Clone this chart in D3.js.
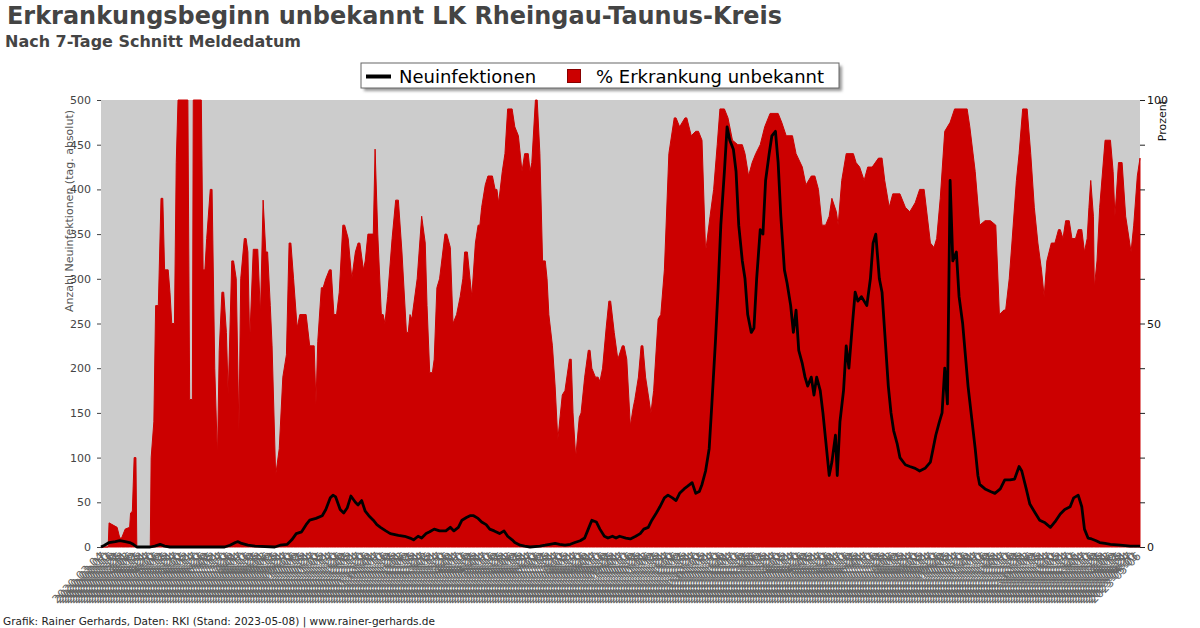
<!DOCTYPE html>
<html><head><meta charset="utf-8">
<script src="https://cdn.jsdelivr.net/npm/d3@7"></script>
<style>body{margin:0;background:#fff}svg{display:block}</style>
</head><body><svg id="c" width="1200" height="628"></svg>
<script>
// ---- data (day offset from start date) ----
const startDate = "2020-03-04";
const endDate = "2023-05-08";
const labelEveryDays = 3;
const leftTicks = [0,50,100,150,200,250,300,350,400,450,500];
const rightTicks = [0,10,20,30,40,50,60,70,80,90,100];
const rightLabels = [0,50,100];

const pctDay = [0,8,9,18,21,23,27,32,33,35,37,39,40,55,56,59,61,64,67,69,71,75,77,79,82,84,86,97,99,102,103,112,114,116,118,122,124,127,130,132,135,137,140,142,146,148,151,154,156,160,162,164,166,170,175,178,181,184,186,189,191,195,199,203,207,210,212,215,219,222,229,233,238,240,242,246,248,251,255,257,260,263,266,270,272,276,280,284,287,289,293,295,298,304,306,309,313,315,317,320,325,329,332,336,341,343,345,347,353,358,362,364,367,370,372,375,378,384,386,390,393,397,401,404,406,409,412,414,418,421,423,425,429,432,437,440,442,444,448,451,454,459,462,466,470,473,477,479,481,485,487,490,493,496,498,500,504,507,510,515,518,523,525,527,530,534,536,540,544,546,548,552,555,557,560,564,567,569,573,577,582,584,587,591,594,596,600,603,605,608,611,614,617,622,625,629,634,640,642,646,652,654,659,664,667,671,675,680,684,688,691,696,700,705,711,716,719,723,727,731,736,741,747,756,760,765,772,776,783,787,793,797,801,805,809,813,816,821,823,827,832,840,843,847,852,856,861,868,872,875,880,884,892,898,903,909,914,919,926,930,933,937,942,948,953,967,970,976,981,987,993,999,1003,1008,1010,1014,1017,1022,1025,1029,1034,1038,1042,1046,1050,1053,1056,1061,1065,1069,1071,1074,1077,1081,1084,1088,1091,1095,1098,1101,1103,1105,1108,1109,1112,1115,1121,1127,1130,1132,1136,1140,1144,1150,1153,1157,1160];
const pctVal = [0,0,5.4,4.4,2,2,4,4.4,7.6,8,20,20,0,0,20,28,54,54,78,78,62,62,57,50,50,86,100,100,33,33,100,100,62,62,69,80,80,40,20,44,57,57,48,34,64,64,60,26,60,69,69,66,46,66.6,66.6,52,77.6,66,66,54,45,16,22,38,43,68,68,60,49,52,52,45,45,32,46,58,58,60,62,62,52,52,57,72,72,69,60,66,68,68,62,64,70,70,89,70,52,52,50,56,69,77.6,77.6,66,48,48,52,51,60,74,68,54,39,39,42,58,60,70,70,67,50,52,56,60,66,66,60,56,68,72,72,76,81,83,83,80,80,77,84,88,98,98,94,92,84,88,88,84,86,100,100,88,64,64,60,52,45,36,24,34,35,42,42,30,20,29,30,38,44,44,40,38,38,37,40,49,55,55,48,42,45,45,42,27,31,33,38,45,45,38,34,30,35,51,52,62,88,96,96,94,96,96,92,93,93,91,66,74,80,90,98,98,96,91,90,90,88,83,86,88,90,94,97,97,95,92,92,88,85,81,83,83,80,72,72,74,78,75,72,82,88,88,86,85,82,85,85,87,87,82,76,79,79,76,75,77,80,80,68,67,69,78,93,95,98,98,94,84,72,73,73,72,52,53,53,60,68,82,88,98,98,88,76,68,62,56,64,68,68,71,71,69,73,73,69,69,71,71,66,69,76,82,74,58,64,76,91,91,84,74,86,86,74,66,72,83,87];

const casesDay = [0,4,9,16,21,27,32,36,40,55,60,66,71,77,138,144,150,153,157,164,172,194,200,208,213,218,224,229,233,240,247,251,256,259,262,267,271,275,279,284,287,291,295,299,304,308,312,318,323,332,339,345,349,354,358,363,367,372,378,385,390,394,399,403,408,412,416,421,425,430,434,439,445,450,454,459,462,468,473,479,490,496,501,507,512,518,524,529,535,540,544,548,553,557,562,566,571,575,579,586,591,597,602,606,611,615,620,624,629,633,638,642,646,651,655,660,664,668,671,675,679,682,686,689,692,696,699,702,706,709,712,716,719,722,726,729,732,736,739,742,746,749,753,756,759,763,766,770,773,776,779,783,786,789,793,796,799,803,806,809,813,816,820,822,825,829,832,835,839,842,845,849,852,855,859,862,865,869,872,875,879,882,885,889,892,898,903,909,914,920,926,929,932,936,939,942,945,948,951,955,958,962,965,968,972,976,979,981,987,993,998,1004,1009,1015,1020,1025,1028,1033,1037,1043,1048,1054,1060,1065,1071,1076,1082,1086,1091,1095,1098,1102,1106,1111,1115,1121,1127,1138,1149,1160];
const casesVal = [0,2,5,6,7,6,5,3,0,0,1,3,1,0,0,2,5,6,4,2,1,0,2,3,8,15,17,25,30,32,35,42,55,58,56,42,38,44,57,50,47,52,40,35,30,25,22,18,15,13,12,10,8,12,10,15,17,20,18,18,22,18,22,30,33,35,35,32,28,25,20,18,15,18,12,8,5,2,1,0,1,2,3,4,3,2,3,5,7,10,20,30,28,20,12,10,12,10,12,10,9,12,15,20,22,30,38,45,55,58,55,52,60,65,68,72,60,62,70,85,110,160,230,290,360,420,470,455,445,420,360,320,300,260,240,245,300,355,350,410,440,460,465,430,370,310,295,270,240,265,220,205,190,180,190,170,190,175,150,120,80,95,125,80,140,175,225,200,250,285,275,280,275,270,300,340,350,300,285,240,180,150,130,115,100,92,90,88,85,88,95,110,125,140,150,200,160,410,320,330,280,250,215,180,145,110,80,70,65,62,60,65,75,75,76,90,85,65,48,38,30,27,22,28,37,42,45,55,58,45,20,10,9,7,5,4,3,2,1,1];

// ---- drawing ----
const svg = d3.select("#c");
const parse = d3.timeParse("%Y-%m-%d");
const fmt = d3.timeFormat("%Y-%m-%d");
const d0 = parse(startDate), d1 = parse(endDate);
const labelDays = d3.timeDay.range(d0, d3.timeDay.offset(d1, 1), labelEveryDays);
const L = 101, R = 1140, T = 100, B = 547;
const x = d3.scaleTime().domain([d0, d1]).range([L, R]);
const yL = d3.scaleLinear().domain([0, 500]).range([B, T]);
const yR = d3.scaleLinear().domain([0, 100]).range([B, T]);
const dayDate = d => d3.timeDay.offset(d0, d);

// plot background
svg.append("rect").attr("x", L).attr("y", T).attr("width", R - L).attr("height", B - T).attr("fill", "#cccccc");

// red area
const pctData = pctDay.map((d, i) => ({ d: dayDate(d), v: pctVal[i] }));
svg.append("path").datum(pctData)
  .attr("d", d3.area().x(p => x(p.d)).y0(yR(0)).y1(p => yR(p.v)))
  .attr("fill", "#cc0000").attr("stroke", "#cc0000").attr("stroke-width", 1).attr("stroke-linejoin", "round");

// black line
const casesData = casesDay.map((d, i) => ({ d: dayDate(d), v: casesVal[i] }));
svg.append("path").datum(casesData)
  .attr("d", d3.line().x(p => x(p.d)).y(p => yL(p.v)))
  .attr("fill", "none").attr("stroke", "#000").attr("stroke-width", 2.8).attr("stroke-linejoin", "round");

// left axis
const gl = svg.append("g").attr("transform", `translate(${L},0)`)
  .call(d3.axisLeft(yL).tickValues(leftTicks).tickSize(4).tickPadding(6));
gl.select(".domain").remove();
gl.selectAll("line").attr("stroke", "#444");
gl.selectAll("text").attr("font-family", "DejaVu Sans").attr("font-size", 11).attr("fill", "#444");

// right axis
const gr = svg.append("g").attr("transform", `translate(${R},0)`)
  .call(d3.axisRight(yR).tickValues(rightTicks).tickSize(5).tickPadding(2)
    .tickFormat(v => rightLabels.includes(v) ? v : ""));
gr.select(".domain").remove();
gr.selectAll("line").attr("stroke", "#222");
gr.selectAll("text").attr("font-family", "DejaVu Sans").attr("font-size", 11).attr("fill", "#111");

// x axis (date labels)
const gx = svg.append("g").attr("transform", `translate(0,${B + 3})`)
  .call(d3.axisBottom(x).tickValues(labelDays).tickSize(0).tickFormat(fmt));
gx.select(".domain").remove();
gx.selectAll("text")
  .attr("font-family", "DejaVu Sans").attr("font-size", 11.5).attr("fill", "#666")
  .attr("text-anchor", "end").attr("y", 0).attr("dy", "0.35em")
  .attr("transform", "translate(0,4) rotate(-45)");

// axis titles
svg.append("text").attr("transform", "translate(73,110) rotate(-90)")
  .attr("text-anchor", "end").attr("font-family", "DejaVu Sans").attr("font-size", 11)
  .attr("fill", "#555").text("Anzahl Neuinfektionen (tag. absolut)");
svg.append("text").attr("transform", "translate(1166,100) rotate(-90)")
  .attr("text-anchor", "end").attr("font-family", "DejaVu Sans").attr("font-size", 11)
  .attr("fill", "#111").text("Prozent");

// titles
svg.append("text").attr("x", 7).attr("y", 24).attr("font-family", "DejaVu Sans").attr("font-weight", "bold")
  .attr("font-size", 25).attr("fill", "#444").attr("textLength", 775).attr("lengthAdjust", "spacingAndGlyphs")
  .text("Erkrankungsbeginn unbekannt LK Rheingau-Taunus-Kreis");
svg.append("text").attr("x", 5).attr("y", 47).attr("font-family", "DejaVu Sans").attr("font-weight", "bold")
  .attr("font-size", 15.5).attr("fill", "#444").attr("textLength", 296).attr("lengthAdjust", "spacingAndGlyphs")
  .text("Nach 7-Tage Schnitt Meldedatum");

// legend
const defs = svg.append("defs");
defs.append("filter").attr("id", "sh").append("feGaussianBlur").attr("stdDeviation", 1.5);
svg.append("rect").attr("x", 364).attr("y", 66).attr("width", 478).attr("height", 25).attr("fill", "#999").attr("filter", "url(#sh)");
svg.append("rect").attr("x", 361).attr("y", 63).attr("width", 478).attr("height", 25).attr("fill", "#fff").attr("stroke", "#666");
svg.append("line").attr("x1", 366).attr("x2", 391).attr("y1", 76.5).attr("y2", 76.5).attr("stroke", "#000").attr("stroke-width", 4);
svg.append("text").attr("x", 399).attr("y", 83).attr("font-family", "DejaVu Sans").attr("font-size", 18).attr("fill", "#000").text("Neuinfektionen");
svg.append("rect").attr("x", 567.5).attr("y", 69.5).attr("width", 13).attr("height", 13).attr("fill", "#cc0000").attr("stroke", "#800");
svg.append("text").attr("x", 596).attr("y", 83).attr("font-family", "DejaVu Sans").attr("font-size", 18).attr("fill", "#000").text("% Erkrankung unbekannt");

// footer
svg.append("text").attr("x", 3).attr("y", 625).attr("font-family", "DejaVu Sans").attr("font-size", 11)
  .attr("fill", "#222").attr("textLength", 432).attr("lengthAdjust", "spacingAndGlyphs")
  .text("Grafik: Rainer Gerhards, Daten: RKI (Stand: 2023-05-08) | www.rainer-gerhards.de");
</script></body></html>
